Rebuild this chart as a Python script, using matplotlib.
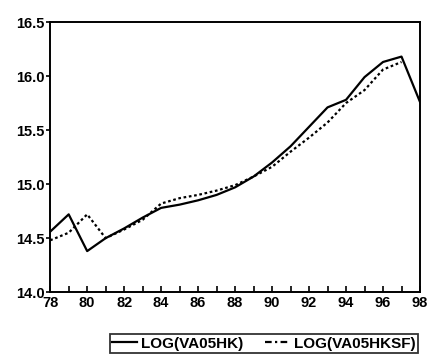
#!/usr/bin/env python3

import matplotlib.pyplot as plt
from matplotlib.ticker import MultipleLocator

# Yearly values, 1978-1998 (two-digit years on the axis)
years = list(range(78, 99))
va05hk = [14.56, 14.72, 14.38, 14.50, 14.59, 14.69, 14.78, 14.81, 14.85,
          14.90, 14.97, 15.07, 15.20, 15.35, 15.53, 15.71, 15.78, 15.99,
          16.13, 16.18, 15.76]
# fitted series stops one year earlier
years_sf = list(range(78, 98))
va05hksf = [14.48, 14.55, 14.72, 14.50, 14.58, 14.67, 14.82, 14.87, 14.90,
            14.94, 14.99, 15.07, 15.16, 15.30, 15.43, 15.57, 15.75, 15.87,
            16.06, 16.13]

plt.rcParams["font.family"] = ["Liberation Sans", "DejaVu Sans"]
plt.rcParams["font.weight"] = "bold"

fig = plt.figure(figsize=(4.29, 3.55), dpi=100)
ax = fig.add_axes([0.117, 0.177, 0.862, 0.761])

ax.plot(years, va05hk, color="black", linewidth=1.6, label="LOG(VA05HK)")
ax.plot(years_sf, va05hksf, color="black", linewidth=1.6,
        linestyle=(0, (1.2, 1.2)), label="LOG(VA05HKSF)")

ax.set_xlim(78, 98)
ax.set_ylim(14.0, 16.5)
ax.xaxis.set_major_locator(MultipleLocator(2))
ax.xaxis.set_minor_locator(MultipleLocator(1))
ax.yaxis.set_major_locator(MultipleLocator(0.5))
ax.xaxis.set_major_formatter(plt.FuncFormatter(lambda v, p: f"{int(v)}"))
ax.yaxis.set_major_formatter(plt.FuncFormatter(lambda v, p: f"{v:.1f}"))

ax.tick_params(axis="x", direction="in", length=4, width=1.2, labelsize=10.5,
               pad=3)
ax.tick_params(axis="x", which="minor", direction="in", length=4, width=1.2)
ax.tick_params(axis="y", direction="out", length=3, width=1.2, labelsize=10.5,
               pad=1)
for side in ax.spines.values():
    side.set_linewidth(1.4)

# Legend box sits under the x tick labels
leg = fig.legend(handles=[ax.lines[0], ax.lines[1]], loc="lower left",
                 bbox_to_anchor=(0.256, 0.006, 0.718, 0.062), ncol=2,
                 mode="expand", frameon=True, fancybox=False, fontsize=11,
                 handlelength=1.6, handletextpad=0.3, borderpad=0.15,
                 borderaxespad=0.0, columnspacing=0.5)
leg.get_frame().set_edgecolor("black")
leg.get_frame().set_linewidth(1.3)
leg.legend_handles[1].set_linestyle((0, (3, 1.5, 1, 1.5)))

fig.savefig("out.png", dpi=100)
plt.close(fig)
